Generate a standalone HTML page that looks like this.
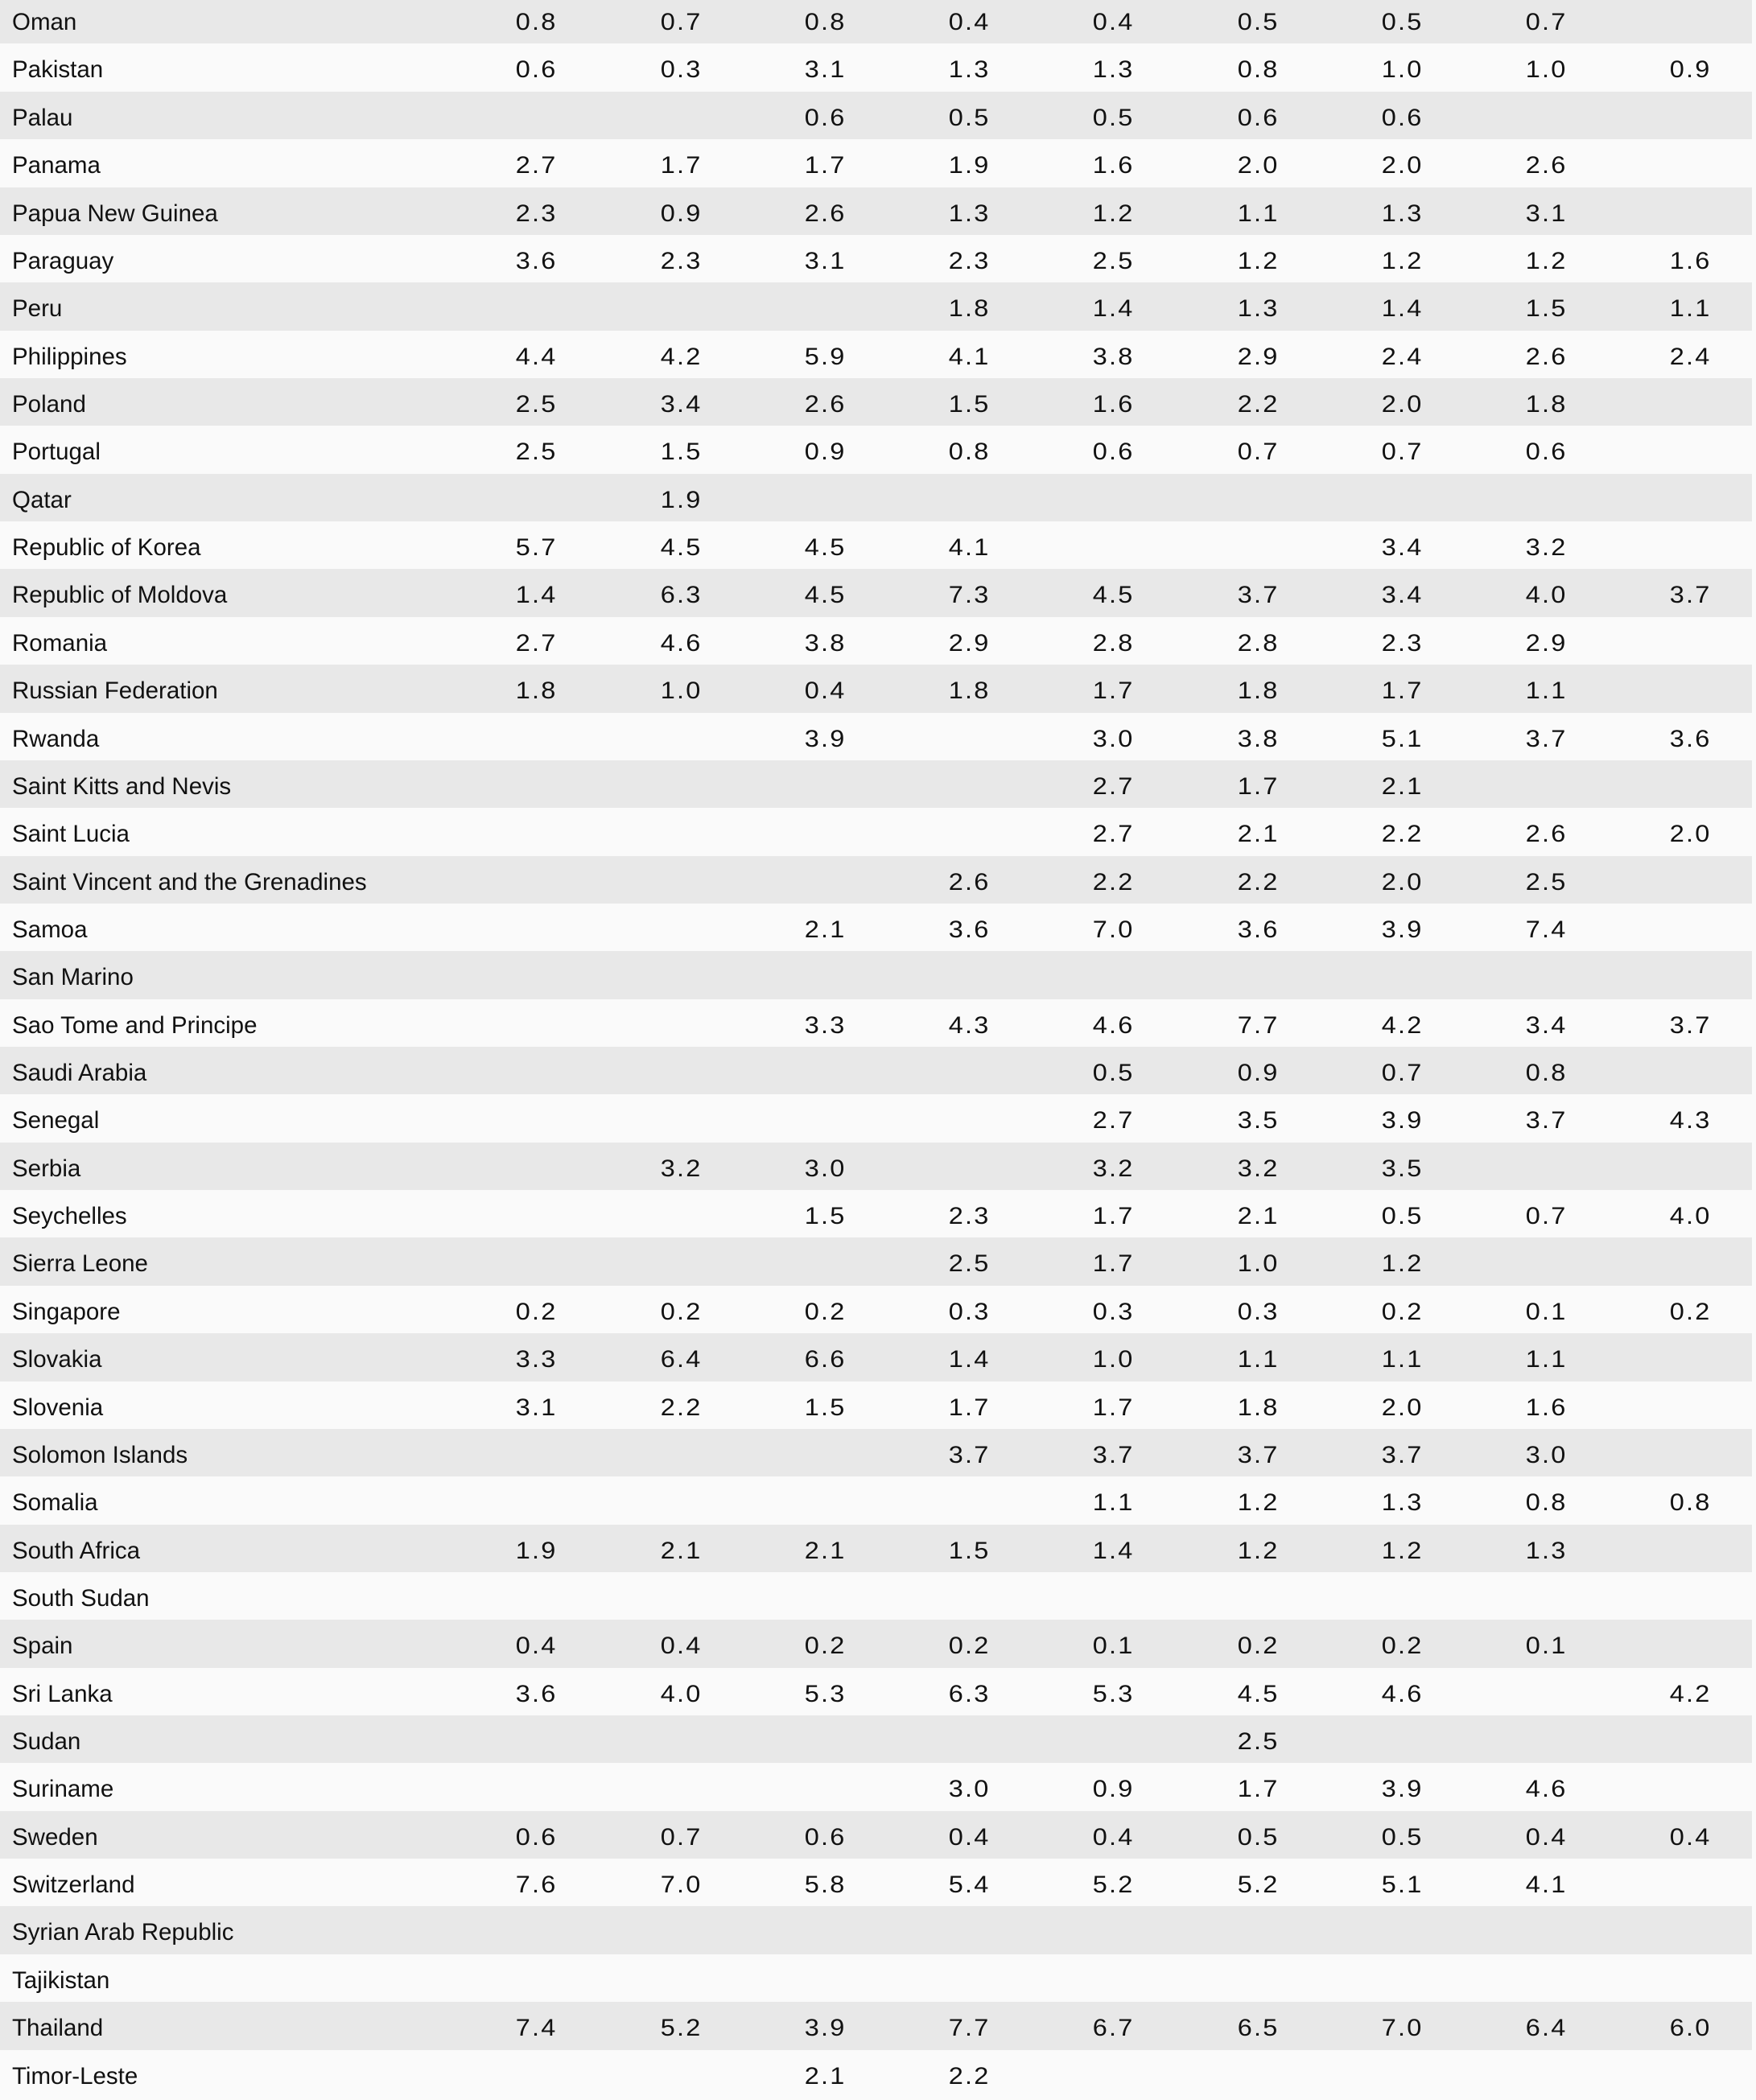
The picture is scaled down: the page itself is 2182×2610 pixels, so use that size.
<!DOCTYPE html>
<html>
<head>
<meta charset="utf-8">
<style>
html,body{margin:0;padding:0;background:#fafafa;}
body{width:2182px;height:2608px;overflow:hidden;position:relative;font-family:"Liberation Sans",sans-serif;color:#111;}
#t{position:absolute;left:0;top:-4.9px;width:2177px;}
.r{position:relative;height:59.37px;line-height:59.37px;background:#fafafa;}
.r.g{background:#e8e8e8;}
.l{position:absolute;left:15px;top:3px;font-size:29.5px;white-space:nowrap;}
.vs{position:absolute;left:577.4px;top:3px;display:flex;}
.vs span{display:block;width:179.25px;text-align:center;font-size:29.5px;letter-spacing:2px;transform:scaleX(1.1);}
</style>
</head>
<body>
<div id="t">
<div class="r g"><span class="l">Oman</span><div class="vs"><span>0.8</span><span>0.7</span><span>0.8</span><span>0.4</span><span>0.4</span><span>0.5</span><span>0.5</span><span>0.7</span><span></span></div></div>
<div class="r"><span class="l">Pakistan</span><div class="vs"><span>0.6</span><span>0.3</span><span>3.1</span><span>1.3</span><span>1.3</span><span>0.8</span><span>1.0</span><span>1.0</span><span>0.9</span></div></div>
<div class="r g"><span class="l">Palau</span><div class="vs"><span></span><span></span><span>0.6</span><span>0.5</span><span>0.5</span><span>0.6</span><span>0.6</span><span></span><span></span></div></div>
<div class="r"><span class="l">Panama</span><div class="vs"><span>2.7</span><span>1.7</span><span>1.7</span><span>1.9</span><span>1.6</span><span>2.0</span><span>2.0</span><span>2.6</span><span></span></div></div>
<div class="r g"><span class="l">Papua New Guinea</span><div class="vs"><span>2.3</span><span>0.9</span><span>2.6</span><span>1.3</span><span>1.2</span><span>1.1</span><span>1.3</span><span>3.1</span><span></span></div></div>
<div class="r"><span class="l">Paraguay</span><div class="vs"><span>3.6</span><span>2.3</span><span>3.1</span><span>2.3</span><span>2.5</span><span>1.2</span><span>1.2</span><span>1.2</span><span>1.6</span></div></div>
<div class="r g"><span class="l">Peru</span><div class="vs"><span></span><span></span><span></span><span>1.8</span><span>1.4</span><span>1.3</span><span>1.4</span><span>1.5</span><span>1.1</span></div></div>
<div class="r"><span class="l">Philippines</span><div class="vs"><span>4.4</span><span>4.2</span><span>5.9</span><span>4.1</span><span>3.8</span><span>2.9</span><span>2.4</span><span>2.6</span><span>2.4</span></div></div>
<div class="r g"><span class="l">Poland</span><div class="vs"><span>2.5</span><span>3.4</span><span>2.6</span><span>1.5</span><span>1.6</span><span>2.2</span><span>2.0</span><span>1.8</span><span></span></div></div>
<div class="r"><span class="l">Portugal</span><div class="vs"><span>2.5</span><span>1.5</span><span>0.9</span><span>0.8</span><span>0.6</span><span>0.7</span><span>0.7</span><span>0.6</span><span></span></div></div>
<div class="r g"><span class="l">Qatar</span><div class="vs"><span></span><span>1.9</span><span></span><span></span><span></span><span></span><span></span><span></span><span></span></div></div>
<div class="r"><span class="l">Republic of Korea</span><div class="vs"><span>5.7</span><span>4.5</span><span>4.5</span><span>4.1</span><span></span><span></span><span>3.4</span><span>3.2</span><span></span></div></div>
<div class="r g"><span class="l">Republic of Moldova</span><div class="vs"><span>1.4</span><span>6.3</span><span>4.5</span><span>7.3</span><span>4.5</span><span>3.7</span><span>3.4</span><span>4.0</span><span>3.7</span></div></div>
<div class="r"><span class="l">Romania</span><div class="vs"><span>2.7</span><span>4.6</span><span>3.8</span><span>2.9</span><span>2.8</span><span>2.8</span><span>2.3</span><span>2.9</span><span></span></div></div>
<div class="r g"><span class="l">Russian Federation</span><div class="vs"><span>1.8</span><span>1.0</span><span>0.4</span><span>1.8</span><span>1.7</span><span>1.8</span><span>1.7</span><span>1.1</span><span></span></div></div>
<div class="r"><span class="l">Rwanda</span><div class="vs"><span></span><span></span><span>3.9</span><span></span><span>3.0</span><span>3.8</span><span>5.1</span><span>3.7</span><span>3.6</span></div></div>
<div class="r g"><span class="l">Saint Kitts and Nevis</span><div class="vs"><span></span><span></span><span></span><span></span><span>2.7</span><span>1.7</span><span>2.1</span><span></span><span></span></div></div>
<div class="r"><span class="l">Saint Lucia</span><div class="vs"><span></span><span></span><span></span><span></span><span>2.7</span><span>2.1</span><span>2.2</span><span>2.6</span><span>2.0</span></div></div>
<div class="r g"><span class="l">Saint Vincent and the Grenadines</span><div class="vs"><span></span><span></span><span></span><span>2.6</span><span>2.2</span><span>2.2</span><span>2.0</span><span>2.5</span><span></span></div></div>
<div class="r"><span class="l">Samoa</span><div class="vs"><span></span><span></span><span>2.1</span><span>3.6</span><span>7.0</span><span>3.6</span><span>3.9</span><span>7.4</span><span></span></div></div>
<div class="r g"><span class="l">San Marino</span><div class="vs"><span></span><span></span><span></span><span></span><span></span><span></span><span></span><span></span><span></span></div></div>
<div class="r"><span class="l">Sao Tome and Principe</span><div class="vs"><span></span><span></span><span>3.3</span><span>4.3</span><span>4.6</span><span>7.7</span><span>4.2</span><span>3.4</span><span>3.7</span></div></div>
<div class="r g"><span class="l">Saudi Arabia</span><div class="vs"><span></span><span></span><span></span><span></span><span>0.5</span><span>0.9</span><span>0.7</span><span>0.8</span><span></span></div></div>
<div class="r"><span class="l">Senegal</span><div class="vs"><span></span><span></span><span></span><span></span><span>2.7</span><span>3.5</span><span>3.9</span><span>3.7</span><span>4.3</span></div></div>
<div class="r g"><span class="l">Serbia</span><div class="vs"><span></span><span>3.2</span><span>3.0</span><span></span><span>3.2</span><span>3.2</span><span>3.5</span><span></span><span></span></div></div>
<div class="r"><span class="l">Seychelles</span><div class="vs"><span></span><span></span><span>1.5</span><span>2.3</span><span>1.7</span><span>2.1</span><span>0.5</span><span>0.7</span><span>4.0</span></div></div>
<div class="r g"><span class="l">Sierra Leone</span><div class="vs"><span></span><span></span><span></span><span>2.5</span><span>1.7</span><span>1.0</span><span>1.2</span><span></span><span></span></div></div>
<div class="r"><span class="l">Singapore</span><div class="vs"><span>0.2</span><span>0.2</span><span>0.2</span><span>0.3</span><span>0.3</span><span>0.3</span><span>0.2</span><span>0.1</span><span>0.2</span></div></div>
<div class="r g"><span class="l">Slovakia</span><div class="vs"><span>3.3</span><span>6.4</span><span>6.6</span><span>1.4</span><span>1.0</span><span>1.1</span><span>1.1</span><span>1.1</span><span></span></div></div>
<div class="r"><span class="l">Slovenia</span><div class="vs"><span>3.1</span><span>2.2</span><span>1.5</span><span>1.7</span><span>1.7</span><span>1.8</span><span>2.0</span><span>1.6</span><span></span></div></div>
<div class="r g"><span class="l">Solomon Islands</span><div class="vs"><span></span><span></span><span></span><span>3.7</span><span>3.7</span><span>3.7</span><span>3.7</span><span>3.0</span><span></span></div></div>
<div class="r"><span class="l">Somalia</span><div class="vs"><span></span><span></span><span></span><span></span><span>1.1</span><span>1.2</span><span>1.3</span><span>0.8</span><span>0.8</span></div></div>
<div class="r g"><span class="l">South Africa</span><div class="vs"><span>1.9</span><span>2.1</span><span>2.1</span><span>1.5</span><span>1.4</span><span>1.2</span><span>1.2</span><span>1.3</span><span></span></div></div>
<div class="r"><span class="l">South Sudan</span><div class="vs"><span></span><span></span><span></span><span></span><span></span><span></span><span></span><span></span><span></span></div></div>
<div class="r g"><span class="l">Spain</span><div class="vs"><span>0.4</span><span>0.4</span><span>0.2</span><span>0.2</span><span>0.1</span><span>0.2</span><span>0.2</span><span>0.1</span><span></span></div></div>
<div class="r"><span class="l">Sri Lanka</span><div class="vs"><span>3.6</span><span>4.0</span><span>5.3</span><span>6.3</span><span>5.3</span><span>4.5</span><span>4.6</span><span></span><span>4.2</span></div></div>
<div class="r g"><span class="l">Sudan</span><div class="vs"><span></span><span></span><span></span><span></span><span></span><span>2.5</span><span></span><span></span><span></span></div></div>
<div class="r"><span class="l">Suriname</span><div class="vs"><span></span><span></span><span></span><span>3.0</span><span>0.9</span><span>1.7</span><span>3.9</span><span>4.6</span><span></span></div></div>
<div class="r g"><span class="l">Sweden</span><div class="vs"><span>0.6</span><span>0.7</span><span>0.6</span><span>0.4</span><span>0.4</span><span>0.5</span><span>0.5</span><span>0.4</span><span>0.4</span></div></div>
<div class="r"><span class="l">Switzerland</span><div class="vs"><span>7.6</span><span>7.0</span><span>5.8</span><span>5.4</span><span>5.2</span><span>5.2</span><span>5.1</span><span>4.1</span><span></span></div></div>
<div class="r g"><span class="l">Syrian Arab Republic</span><div class="vs"><span></span><span></span><span></span><span></span><span></span><span></span><span></span><span></span><span></span></div></div>
<div class="r"><span class="l">Tajikistan</span><div class="vs"><span></span><span></span><span></span><span></span><span></span><span></span><span></span><span></span><span></span></div></div>
<div class="r g"><span class="l">Thailand</span><div class="vs"><span>7.4</span><span>5.2</span><span>3.9</span><span>7.7</span><span>6.7</span><span>6.5</span><span>7.0</span><span>6.4</span><span>6.0</span></div></div>
<div class="r"><span class="l">Timor-Leste</span><div class="vs"><span></span><span></span><span>2.1</span><span>2.2</span><span></span><span></span><span></span><span></span><span></span></div></div>
</div>
</body>
</html>
